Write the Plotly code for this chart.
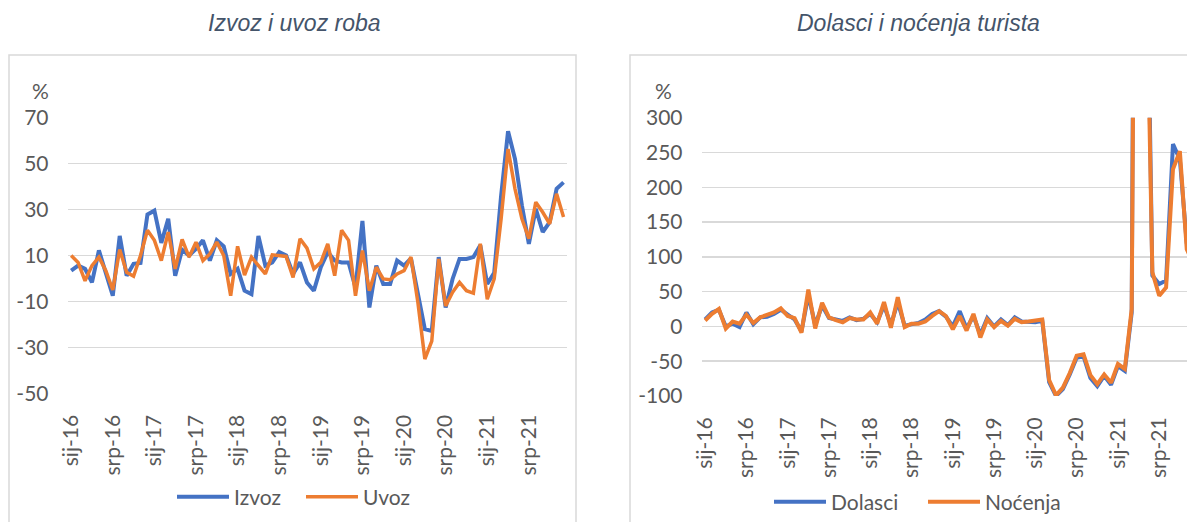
import plotly.graph_objects as go

# ---------------- data ----------------
months_hr = ["sij", "velj", "ožu", "tra", "svi", "lip", "srp", "kol", "ruj", "lis", "stu", "pro"]
years = ["16", "17", "18", "19", "20", "21"]
categories = [f"{m}-{y}" for y in years for m in months_hr]          # 72 months, sij-16 .. pro-21
tick_labels = [c for c in categories if c.startswith("sij-") or c.startswith("srp-")]

left_yticks = [-50, -30, -10, 10, 30, 50, 70]
right_yticks = [-100, -50, 0, 50, 100, 150, 200, 250, 300]

izvoz = [3.4, 5.6, 4.2, -1.7, 12.2, 2.0, -7.5, 18.5, 1.2, 6.4, 6.8, 27.8,
         29.5, 15.5, 26.0, 1.2, 12.5, 10.0, 12.9, 16.6, 7.8, 16.6, 14.0, 2.0,
         4.2, -5.3, -6.8, 18.5, 5.6, 7.0, 11.5, 10.0, 2.0, 7.0, -1.7, -5.3,
         4.9, 11.5, 7.8, 7.0, 7.0, -3.9, 25.0, -12.6, 5.6, -2.4, -2.4, 7.8,
         5.6, 8.8, -6.0, -22.0, -22.8, 9.3, -12.6, -0.2, 8.5, 8.5, 9.3, 14.4,
         -2.4, 2.5, 36.0, 64.0, 52.0, 31.7, 15.1, 30.3, 20.2, 24.5, 39.0, 41.8]

uvoz = [10.0, 7.0, -1.0, 5.6, 9.3, 3.4, -5.0, 12.6, 2.7, 1.0, 10.0, 21.0,
        16.6, 7.8, 20.2, 4.2, 17.0, 9.3, 15.8, 7.8, 10.7, 15.8, 10.0, -7.5,
        14.0, 1.5, 9.3, 5.6, 2.0, 10.3, 10.0, 9.6, 0.5, 17.3, 13.2, 4.2,
        7.0, 15.1, 1.2, 21.0, 16.6, -7.5, 12.2, -5.3, 4.9, -0.2, -0.5, 2.0,
        3.4, 9.3, -10.4, -35.0, -27.2, 8.5, -11.9, -6.0, -1.7, -5.3, -6.4, 15.1,
        -9.0, -0.2, 26.0, 56.3, 39.0, 26.0, 17.3, 33.2, 28.8, 23.8, 36.8, 26.7]

dolasci = [10, 20, 24, 0, 4, -1, 20, 3, 13, 14, 18, 24,
           17, 10, -7, 45, 2, 30, 12, 10, 8, 13, 9, 11,
           18, 6, 30, 2, 35, 1, 3, 5, 10, 18, 22, 14,
           0, 22, -3, 15, -12, 12, 0, 10, 2, 13, 7, 6,
           6, 8, -80, -100, -90, -69, -45, -43, -74, -86, -71, -84,
           -57, -64, 20, 1900, 700, 73, 61, 66, 262, 240, 120, 95]

nocenja = [8.6, 18, 25, -3, 7, 4, 17, 5, 13, 16, 20, 26,
           15, 12, -9, 53, -3, 34, 13, 9, 6, 12, 10, 10,
           20, 4, 35, -2, 42, -1, 4, 4, 7, 15, 22, 15,
           -4, 15, -6, 18, -16, 10, -1, 8, 1, 11, 6, 7,
           8, 10, -77, -99, -88, -67, -42, -40, -70, -83, -69, -81,
           -54, -61, 25, 1500, 600, 78, 44, 56, 226, 252, 111, 90]

left_title = "Izvoz i uvoz roba"
right_title = "Dolasci i noćenja turista"

# ---------------- layout helpers ----------------
W, H = 1187, 522
def px(x):
    return x / W
def py(y):
    return 1 - y / H

BLUE = "#4472C4"
ORANGE = "#ED7D31"
GRID = "#D9D9D9"
TXT = "#595959"
FONT = "Lato"
FS = 21

n = len(categories)
boundaries = [i - 0.5 for i in range(0, n + 1, 6)]

L_dom_x = [px(67.7), px(567)]
L_dom_y = [py(393.5), py(117.5)]
R_dom_x = [px(701.7), 1.0]
R_dom_y = [py(396), py(117.7)]
R_month_w = 6.88
R_range = [-0.5, -0.5 + (W - 701.7) / R_month_w]

L_yr = [min(left_yticks), max(left_yticks)]
R_yr = [min(right_yticks), max(right_yticks)]
L_zero = L_dom_y[0] + (0 - L_yr[0]) / (L_yr[1] - L_yr[0]) * (L_dom_y[1] - L_dom_y[0])
R_zero = R_dom_y[0] + (0 - R_yr[0]) / (R_yr[1] - R_yr[0]) * (R_dom_y[1] - R_dom_y[0])

fig = go.Figure()

fig.add_trace(go.Scatter(x=categories, y=izvoz, name="Izvoz", mode="lines",
                         line=dict(color=BLUE, width=4), xaxis="x", yaxis="y", legend="legend"))
fig.add_trace(go.Scatter(x=categories, y=uvoz, name="Uvoz", mode="lines",
                         line=dict(color=ORANGE, width=3.5), xaxis="x", yaxis="y", legend="legend"))
fig.add_trace(go.Scatter(x=categories, y=dolasci, name="Dolasci", mode="lines",
                         line=dict(color=BLUE, width=4), xaxis="x2", yaxis="y2", legend="legend2"))
fig.add_trace(go.Scatter(x=categories, y=nocenja, name="Noćenja", mode="lines",
                         line=dict(color=ORANGE, width=4), xaxis="x2", yaxis="y2", legend="legend2"))

tickfont = dict(family=FONT, size=FS, color=TXT)

def label_axis(domain, rng, anchor):
    return dict(domain=domain, anchor=anchor, type="category", categoryorder="array",
                categoryarray=categories, range=rng, tickmode="array", tickvals=tick_labels,
                ticktext=tick_labels, tickangle=-90, ticks="outside", ticklen=12,
                tickcolor="rgba(0,0,0,0)", showline=False, showgrid=False, zeroline=False,
                tickfont=tickfont, fixedrange=True, automargin=False)

def zero_axis(domain, rng, overlay, pos):
    return dict(domain=domain, overlaying=overlay, anchor="free", position=pos, type="linear",
                range=rng, tickmode="array", tickvals=boundaries, showticklabels=False,
                ticks="outside", ticklen=7, tickwidth=1.5, tickcolor=GRID,
                showline=True, linecolor=GRID, linewidth=1.5, showgrid=False, zeroline=False,
                fixedrange=True, automargin=False)

def y_axis(domain, vals, anchor):
    return dict(domain=domain, anchor=anchor, range=[min(vals), max(vals)],
                tickmode="array", tickvals=vals, ticktext=[str(v) for v in vals],
                showgrid=True, gridcolor=GRID, gridwidth=1.5, zeroline=False, showline=False,
                ticks="outside", ticklen=14, tickcolor="rgba(0,0,0,0)", tickfont=tickfont,
                fixedrange=True, automargin=False)

legend_common = dict(orientation="h", xanchor="left", yanchor="middle",
                     font=dict(family=FONT, size=FS, color=TXT), bgcolor="rgba(0,0,0,0)",
                     itemwidth=52, entrywidthmode="pixels",
                     itemclick=False, itemdoubleclick=False)

fig.update_layout(
    width=W, height=H, autosize=False,
    margin=dict(l=0, r=0, t=0, b=0, pad=0, autoexpand=False),
    paper_bgcolor="white", plot_bgcolor="white",
    font=dict(family=FONT, color=TXT),
    xaxis=label_axis(L_dom_x, [-0.5, n - 0.5], "y"),
    yaxis=y_axis(L_dom_y, left_yticks, "x"),
    xaxis2=label_axis(R_dom_x, R_range, "y2"),
    yaxis2=y_axis(R_dom_y, right_yticks, "x2"),
    xaxis3=zero_axis(L_dom_x, [-0.5, n - 0.5], "x", L_zero),
    xaxis4=zero_axis(R_dom_x, R_range, "x2", R_zero),
    legend=dict(legend_common, x=px(172), y=py(497), entrywidth=62),
    legend2=dict(legend_common, x=px(769), y=py(502), entrywidth=87),
    showlegend=True,
)

# panel frames
fig.add_shape(type="rect", xref="paper", yref="paper", x0=px(9), x1=px(576), y0=-0.1, y1=py(55),
              line=dict(color=GRID, width=1.5), fillcolor="rgba(0,0,0,0)", layer="below")
fig.add_shape(type="rect", xref="paper", yref="paper", x0=px(630), x1=1.1, y0=-0.1, y1=py(55),
              line=dict(color=GRID, width=1.5), fillcolor="rgba(0,0,0,0)", layer="below")

title_font = dict(family="Liberation Sans", size=23, color="#44546A", style="italic")
fig.add_annotation(text=left_title, xref="paper", yref="paper", x=px(294), y=py(23),
                   showarrow=False, xanchor="center", yanchor="middle", font=title_font)
fig.add_annotation(text=right_title, xref="paper", yref="paper", x=px(918), y=py(23),
                   showarrow=False, xanchor="center", yanchor="middle", font=title_font)
fig.add_annotation(text="%", xref="paper", yref="paper", x=px(40), y=py(90),
                   showarrow=False, xanchor="center", yanchor="middle", font=tickfont)
fig.add_annotation(text="%", xref="paper", yref="paper", x=px(663), y=py(90),
                   showarrow=False, xanchor="center", yanchor="middle", font=tickfont)

fig.write_html("out.html", config={"displayModeBar": False, "staticPlot": True},
               post_script="document.body.style.margin='0';document.body.style.overflow='hidden';")
